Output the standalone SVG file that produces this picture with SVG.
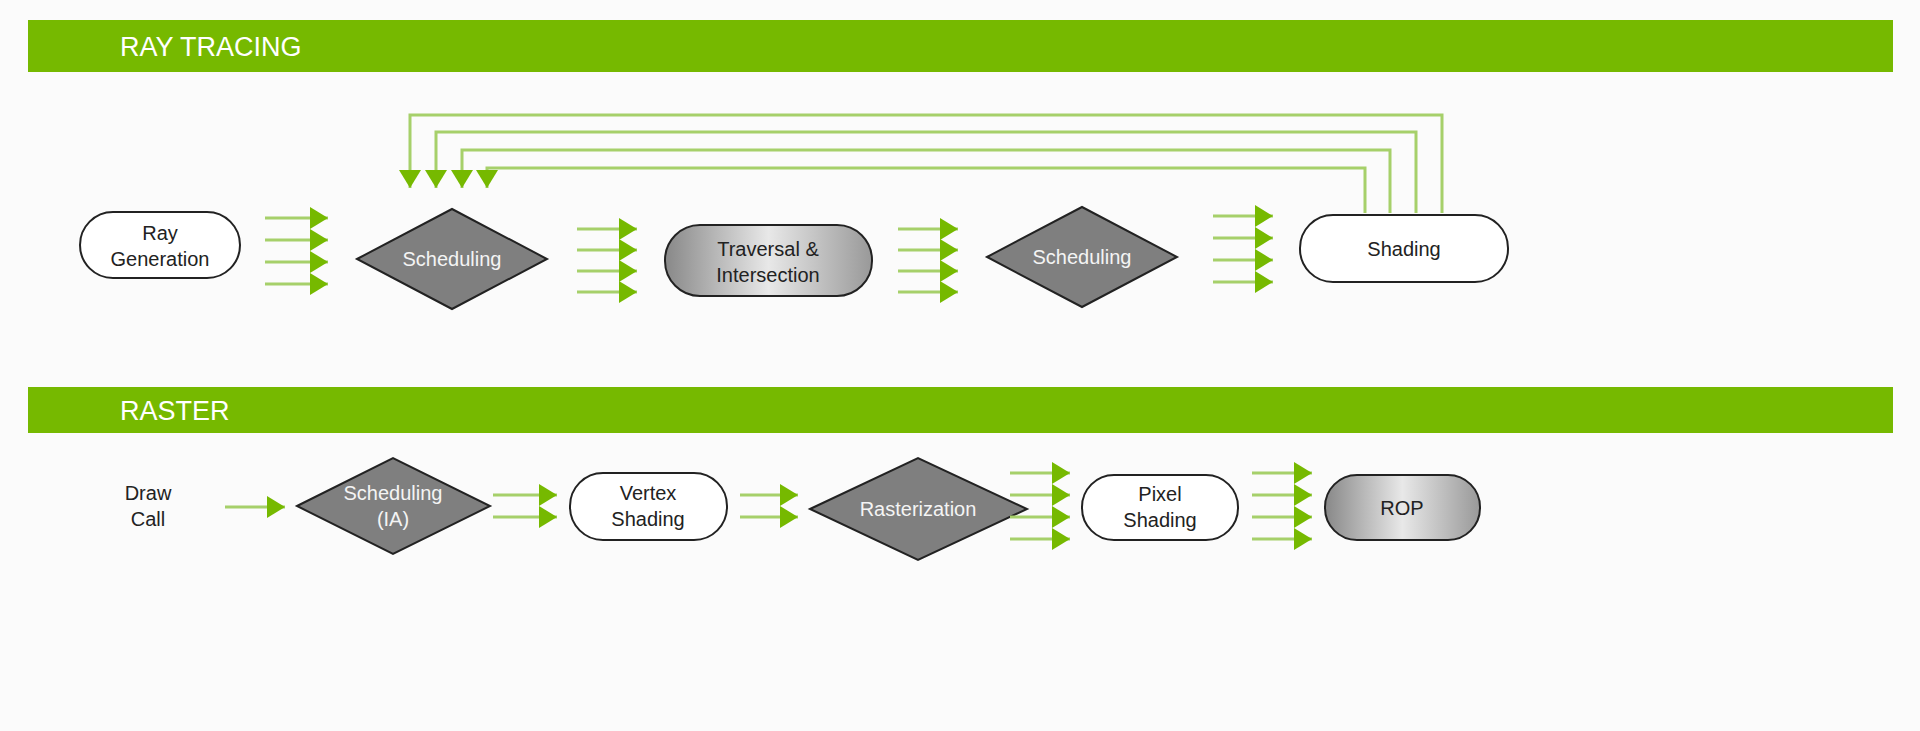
<svg xmlns="http://www.w3.org/2000/svg" width="1920" height="731" viewBox="0 0 1920 731">
<defs>
<linearGradient id="gr" x1="0" y1="0" x2="1" y2="0"><stop offset="0" stop-color="#888"/><stop offset="0.5" stop-color="#e8e8e8"/><stop offset="1" stop-color="#999"/></linearGradient>
<marker id="ah" viewBox="0 0 10 12" refX="10" refY="6" markerWidth="10" markerHeight="12" markerUnits="userSpaceOnUse" orient="auto"><path d="M0,0 L10,6 L0,12 Z" fill="#76b900"/></marker>
<marker id="bh" viewBox="0 0 18 22" refX="18" refY="11" markerWidth="18" markerHeight="22" markerUnits="userSpaceOnUse" orient="auto"><path d="M0,0 L18,11 L0,22 Z" fill="#76b900"/></marker>
</defs>
<style>
text{font-family:"Liberation Sans",Arial,sans-serif;font-size:20px;text-anchor:middle;fill:#222}
.hd{fill:#fff;font-size:27px;text-anchor:start}
.w{fill:#f4f4f4}
.bar{fill:#76b900}
.pill{fill:#fff;stroke:#222;stroke-width:2}
.pg{fill:url(#gr);stroke:#222;stroke-width:2}
.dia{fill:#7f7f7f;stroke:#222;stroke-width:2}
.c line,.c polyline{stroke:#a6d06a;stroke-width:3;fill:none;marker-end:url(#bh)}
</style>
<rect width="1920" height="731" fill="#fbfbfb"/>
<rect class="bar" x="28" y="20" width="1865" height="52"/>
<text class="hd" x="120" y="56">RAY TRACING</text>
<rect class="bar" x="28" y="387" width="1865" height="46"/>
<text class="hd" x="120" y="420">RASTER</text>

<g id="raygen"><rect class="pill" x="80" y="212" width="160" height="66" rx="33"/><text x="160" y="240">Ray</text><text x="160" y="266">Generation</text></g>
<g id="sched1"><polygon class="dia" points="357,259 452,209 547,259 452,309"/><text class="w" x="452" y="266">Scheduling</text></g>
<g id="traversal"><rect class="pg" x="665" y="225" width="207" height="71" rx="35"/><text x="768" y="256">Traversal &amp;</text><text x="768" y="282">Intersection</text></g>
<g id="sched2"><polygon class="dia" points="987,257 1082,207 1177,257 1082,307"/><text class="w" x="1082" y="264">Scheduling</text></g>
<g id="shading"><rect class="pill" x="1300" y="215" width="208" height="67" rx="33"/><text x="1404" y="256">Shading</text></g>

<g id="drawcall"><text x="148" y="500">Draw</text><text x="148" y="526">Call</text></g>
<g id="schedIA"><polygon class="dia" points="297,506 393,458 490,506 393,554"/><text class="w" x="393" y="500">Scheduling</text><text class="w" x="393" y="526">(IA)</text></g>
<g id="vertex"><rect class="pill" x="570" y="473" width="157" height="67" rx="33"/><text x="648" y="500">Vertex</text><text x="648" y="526">Shading</text></g>
<g id="raster"><polygon class="dia" points="810,509 918,458 1027,509 918,560"/><text class="w" x="918" y="516">Rasterization</text></g>
<g id="pixel"><rect class="pill" x="1082" y="475" width="156" height="65" rx="32"/><text x="1160" y="501">Pixel</text><text x="1160" y="527">Shading</text></g>
<g id="rop"><rect class="pg" x="1325" y="475" width="155" height="65" rx="32"/><text x="1402" y="515">ROP</text></g>

<g class="c" id="connectors">
<line x1="265" y1="218" x2="328" y2="218"/><line x1="265" y1="240" x2="328" y2="240"/><line x1="265" y1="262" x2="328" y2="262"/><line x1="265" y1="284" x2="328" y2="284"/>
<line x1="577" y1="229" x2="637" y2="229"/><line x1="577" y1="250" x2="637" y2="250"/><line x1="577" y1="271" x2="637" y2="271"/><line x1="577" y1="292" x2="637" y2="292"/>
<line x1="898" y1="229" x2="958" y2="229"/><line x1="898" y1="250" x2="958" y2="250"/><line x1="898" y1="271" x2="958" y2="271"/><line x1="898" y1="292" x2="958" y2="292"/>
<line x1="1213" y1="216" x2="1273" y2="216"/><line x1="1213" y1="238" x2="1273" y2="238"/><line x1="1213" y1="260" x2="1273" y2="260"/><line x1="1213" y1="282" x2="1273" y2="282"/>
<polyline points="1365,213 1365,168 487,168 487,188"/>
<polyline points="1390,213 1390,150 462,150 462,188"/>
<polyline points="1416,213 1416,132 436,132 436,188"/>
<polyline points="1442,213 1442,115 410,115 410,188"/>
<line x1="225" y1="507" x2="285" y2="507"/>
<line x1="493" y1="495" x2="557" y2="495"/><line x1="493" y1="517" x2="557" y2="517"/>
<line x1="740" y1="495" x2="798" y2="495"/><line x1="740" y1="517" x2="798" y2="517"/>
<line x1="1010" y1="473" x2="1070" y2="473"/><line x1="1010" y1="495" x2="1070" y2="495"/><line x1="1010" y1="517" x2="1070" y2="517"/><line x1="1010" y1="539" x2="1070" y2="539"/>
<line x1="1252" y1="473" x2="1312" y2="473"/><line x1="1252" y1="495" x2="1312" y2="495"/><line x1="1252" y1="517" x2="1312" y2="517"/><line x1="1252" y1="539" x2="1312" y2="539"/>
</g>
</svg>
